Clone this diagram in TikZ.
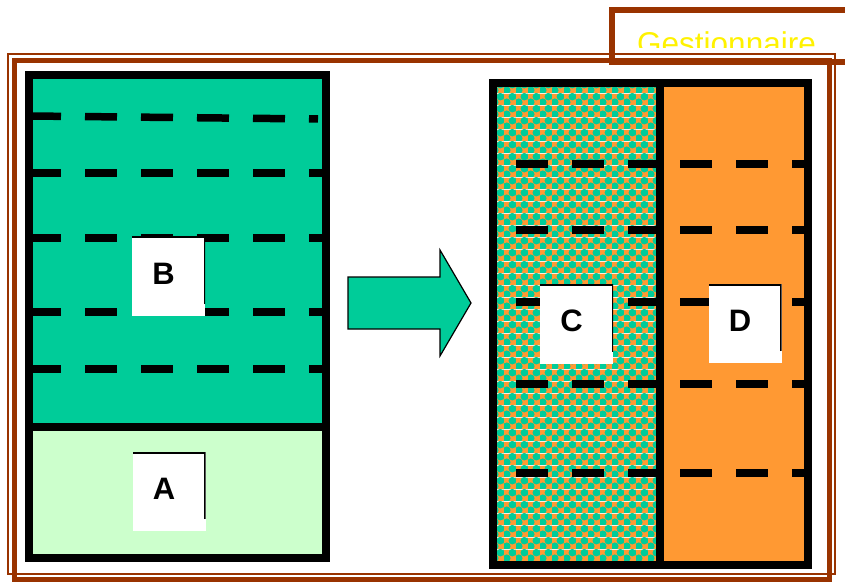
\documentclass[tikz,border=0pt]{standalone}
\usepackage{fontspec}
\setmainfont{Liberation Sans}
\usetikzlibrary{patterns.meta}

\definecolor{vert}{HTML}{00CC99}
\definecolor{vertclair}{HTML}{CCFFCC}
\definecolor{orangeD}{HTML}{FF9933}
\definecolor{brun}{HTML}{993300}

\tikzdeclarepattern{
  name=billes,
  type=colored,
  bounding box={(0pt,0pt) and (12pt,12pt)},
  tile size={(12pt,12pt)},
  code={
    \fill[orangeD] (0pt,0pt) rectangle (12pt,12pt);
    \fill[vert] (3pt,3pt) circle (4.1pt);
    \fill[vert] (9pt,9pt) circle (4.1pt);
  }
}

\begin{document}
\begin{tikzpicture}[x=1pt, y=-1pt,
    lbl/.style = {fill=white, inner sep=0pt, minimum width=73pt,
      text height=47pt, text depth=32pt,
      font=\bfseries\fontsize{31}{31}\selectfont,
      path picture={\draw[line width=3pt]
        ([yshift=12pt]path picture bounding box.south east)
        -- (path picture bounding box.north east)
        -- (path picture bounding box.north west);}},
    tirets/.style = {line width=7.5pt, dash pattern=on 32pt off 24pt},
    bord/.style = {line width=8pt, line join=miter}]
  \useasboundingbox (0,0) rectangle (845,585);
  \fill[white] (0,0) rectangle (845,585);

  % cadre
  \draw[brun, line width=2pt] (8,54) rectangle (835,574);
  \draw[brun, line width=5pt] (14.5,60.5) rectangle (829.5,579.5);

  \draw[brun, line width=6pt] (612,10) rectangle (860,62);
  \begin{scope}
    \clip (616,14) rectangle (845,48);
    \node[anchor=base west, text=yellow, inner sep=0pt,
      font=\fontsize{31.5}{31.5}\selectfont] (gest) at (637,55) {Gestionnaire};
  \end{scope}

  % bloc de gauche
  \fill[vert] (28.5,75) rectangle (326,427);
  \fill[vertclair] (28.5,427) rectangle (326,557.5);
  \draw[tirets] (29,116) -- (318,119);
  \foreach \y in {173,238,312,369}
    \draw[tirets] (29,\y) -- (326,\y);
  \draw[bord] (28.5,75) rectangle (326,557.5);
  \draw[bord] (28.5,427) -- (326,427);

  % fleche
  \draw[fill=vert, line width=1.2pt, line join=miter]
    (348,277) -- (440,277) -- (440,250) -- (471,303)
    -- (440,356) -- (440,329) -- (348,329) -- cycle;

  % bloc de droite
  \fill[pattern=billes] (493,83) rectangle (660,565);
  \fill[orangeD] (660,83) rectangle (808,565);
  \foreach \y in {164,230,302,384,473} {
    \draw[tirets] (516,\y) -- (660,\y);
    \draw[tirets] (680,\y) -- (808,\y);
  }
  \draw[bord] (493,83) rectangle (808,565);
  \draw[bord] (660,83) -- (660,565);

  \node[lbl] (B) at (168.5,276.5) {B\kern10pt};
  \node[lbl] (A) at (169,491.5) {A\kern10pt};
  \node[lbl] (C) at (576.5,324) {C\kern10pt};
  \node[lbl] (D) at (745,323.5) {D\kern10pt};
\end{tikzpicture}
\end{document}
